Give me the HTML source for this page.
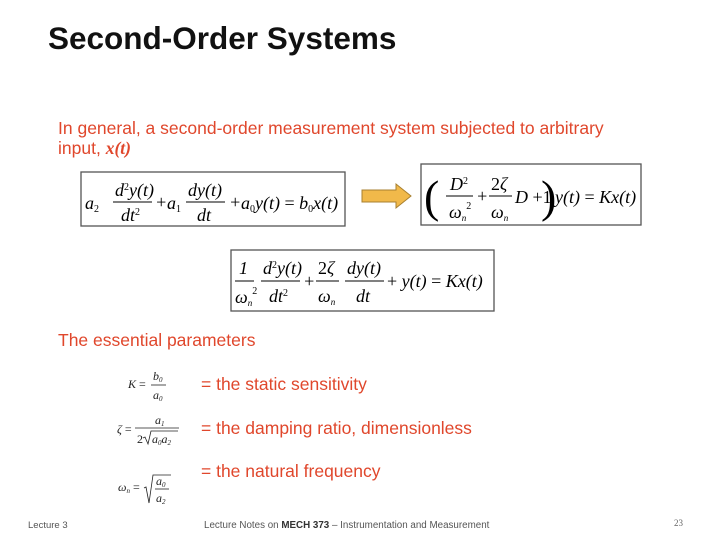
<!DOCTYPE html>
<html><head><meta charset="utf-8"><style>
html,body{margin:0;padding:0;background:#fff;}
svg{display:block}
.s{font-family:"Liberation Sans",sans-serif}
.m{font-family:"Liberation Serif",serif;font-style:italic;font-size:18px;fill:#000}
.r{fill:#e0472c;font-family:"Liberation Sans",sans-serif;font-size:17.5px}
</style></head><body>
<svg width="720" height="539" viewBox="0 0 720 539" xmlns="http://www.w3.org/2000/svg">
<rect width="720" height="539" fill="#fff"/>
<text x="48" y="49" class="s" font-size="31.5" font-weight="bold" fill="#111">Second-Order Systems</text>
<text x="58" y="134" class="r">In general, a second-order measurement system subjected to arbitrary</text>
<text x="58" y="154" class="r">input, <tspan font-family="Liberation Serif" font-style="italic" font-weight="bold">x(t)</tspan></text>

<!-- box1 -->
<rect x="81" y="172" width="264" height="54" fill="none" stroke="#555" stroke-width="1.3"/>
<text x="85" y="209" class="m">a<tspan font-size="10" font-style="normal" dy="3">2</tspan></text>
<text x="115" y="196" class="m">d<tspan font-size="10" font-style="normal" dy="-6">2</tspan><tspan dy="6">y(t)</tspan></text>
<line x1="113" y1="202" x2="152" y2="202" stroke="#000" stroke-width="1"/>
<text x="121" y="221" class="m">dt<tspan font-size="10" font-style="normal" dy="-6">2</tspan></text>
<text x="155" y="208" class="m" font-style="normal">+</text>
<text x="167" y="209" class="m">a<tspan font-size="10" font-style="normal" dy="3">1</tspan></text>
<text x="188" y="196" class="m">dy(t)</text>
<line x1="186" y1="202" x2="225" y2="202" stroke="#000" stroke-width="1"/>
<text x="197" y="221" class="m">dt</text>
<text x="229" y="208" class="m" font-style="normal">+</text>
<text x="241" y="209" class="m">a<tspan font-size="10" font-style="normal" dy="3">0</tspan><tspan dy="-3">y(t) </tspan><tspan font-style="normal">=</tspan> b<tspan font-size="10" font-style="normal" dy="3">0</tspan><tspan dy="-3">x(t)</tspan></text>

<!-- arrow -->
<path d="M362 190 H396 V184 L411 196 L396 208 V202 H362 Z" fill="#f1b94a" stroke="#a88030" stroke-width="1"/>

<!-- box2 -->
<rect x="421" y="164" width="220" height="61" fill="none" stroke="#555" stroke-width="1.3"/>
<text x="424" y="212" font-family="Liberation Serif" font-size="46" fill="#000">(</text>
<text x="450" y="190" class="m">D<tspan font-size="10" font-style="normal" dy="-6">2</tspan></text>
<line x1="446" y1="196" x2="473" y2="196" stroke="#000"/>
<text x="449" y="218" class="m">ω<tspan font-size="9" dy="3">n</tspan><tspan font-size="10" font-style="normal" dy="-12">2</tspan></text>
<text x="476" y="202" class="m" font-style="normal">+</text>
<text x="491" y="190" class="m"><tspan font-style="normal">2</tspan>ζ</text>
<line x1="489" y1="196" x2="512" y2="196" stroke="#000"/>
<text x="491" y="218" class="m">ω<tspan font-size="9" dy="3">n</tspan></text>
<text x="515" y="203" class="m">D <tspan font-style="normal">+1</tspan></text>
<text x="541" y="212" font-family="Liberation Serif" font-size="46" fill="#000">)</text>
<text x="555" y="203" class="m">y(t) <tspan font-style="normal">=</tspan> Kx(t)</text>

<!-- box3 -->
<rect x="231" y="250" width="263" height="61" fill="none" stroke="#555" stroke-width="1.3"/>
<text x="239" y="274" class="m" font-style="normal">1</text>
<line x1="235" y1="281" x2="254" y2="281" stroke="#000"/>
<text x="235" y="303" class="m">ω<tspan font-size="9" dy="3">n</tspan><tspan font-size="10" font-style="normal" dy="-12">2</tspan></text>
<text x="263" y="274" class="m">d<tspan font-size="10" font-style="normal" dy="-6">2</tspan><tspan dy="6">y(t)</tspan></text>
<line x1="261" y1="281" x2="300" y2="281" stroke="#000"/>
<text x="269" y="302" class="m">dt<tspan font-size="10" font-style="normal" dy="-6">2</tspan></text>
<text x="303" y="287" class="m" font-style="normal">+</text>
<text x="318" y="274" class="m"><tspan font-style="normal">2</tspan>ζ</text>
<line x1="316" y1="281" x2="339" y2="281" stroke="#000"/>
<text x="318" y="302" class="m">ω<tspan font-size="9" dy="3">n</tspan></text>
<text x="347" y="274" class="m">dy(t)</text>
<line x1="345" y1="281" x2="384" y2="281" stroke="#000"/>
<text x="356" y="302" class="m">dt</text>
<text x="387" y="287" class="m"><tspan font-style="normal">+</tspan> y(t) <tspan font-style="normal">=</tspan> Kx(t)</text>

<text x="58" y="346" class="r">The essential parameters</text>

<!-- params -->
<g font-family="Liberation Serif" font-style="italic" font-size="12" fill="#222">
<text x="128" y="388">K <tspan font-style="normal">=</tspan></text>
<text x="153" y="380">b<tspan font-size="7" dy="2">0</tspan></text>
<line x1="151" y1="385" x2="166" y2="385" stroke="#222" stroke-width="0.8"/>
<text x="153" y="399">a<tspan font-size="7" dy="2">0</tspan></text>

<text x="117" y="433">ζ <tspan font-style="normal">=</tspan></text>
<text x="155" y="424">a<tspan font-size="7" dy="2">1</tspan></text>
<line x1="135" y1="428" x2="179" y2="428" stroke="#222" stroke-width="0.8"/>
<text x="137" y="443"><tspan font-style="normal">2</tspan></text>
<path d="M143 438 L145 437 L148 444 L151 431 H178" fill="none" stroke="#222" stroke-width="0.8"/>
<text x="152" y="443">a<tspan font-size="7" dy="2">0</tspan><tspan dy="-2">a</tspan><tspan font-size="7" dy="2">2</tspan></text>

<text x="118" y="491">ω<tspan font-size="7" dy="2">n</tspan><tspan dy="-2" font-style="normal"> =</tspan></text>
<path d="M144 488 L146 487 L149 503 L153 475 H171" fill="none" stroke="#222" stroke-width="0.8"/>
<text x="156" y="485">a<tspan font-size="7" dy="2">0</tspan></text>
<line x1="155" y1="489" x2="169" y2="489" stroke="#222" stroke-width="0.8"/>
<text x="156" y="502">a<tspan font-size="7" dy="2">2</tspan></text>
</g>
<text x="201" y="390" class="r">= the static sensitivity</text>
<text x="201" y="434" class="r">= the damping ratio, dimensionless</text>
<text x="201" y="477" class="r">= the natural frequency</text>

<text x="28" y="528" class="s" font-size="9.5" fill="#555">Lecture 3</text>
<text x="204" y="528" class="s" font-size="9.8" fill="#555">Lecture Notes on <tspan font-weight="bold" fill="#333">MECH 373</tspan> – Instrumentation and Measurement</text>
<text x="674" y="526" font-family="Liberation Serif" font-size="9" fill="#666">23</text>
</svg>
</body></html>
